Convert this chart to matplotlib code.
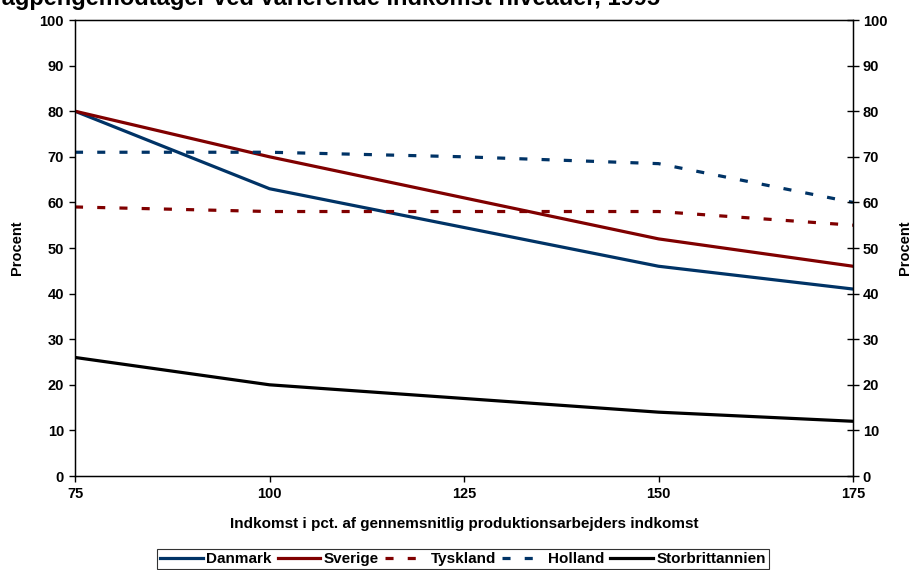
import matplotlib

matplotlib.use("Agg")
import matplotlib.pyplot as plt
from matplotlib.ticker import MultipleLocator

# Kompensationsgrad ved forskellige indkomstniveauer (pct.)
indkomst = [75, 100, 125, 150, 175]
danmark = [80, 63, 54.5, 46, 41]
sverige = [80, 70, 61, 52, 46]
tyskland = [59, 58, 58, 58, 55]
holland = [71, 71, 70, 68.5, 60]
storbritannien = [26, 20, 17, 14, 12]

titel = "Kompensationsgrader for en dagpengemodtager ved varierende indkomst niveauer, 1995"

plt.rcParams.update(
    {
        "font.family": "Liberation Sans",
        "font.weight": "bold",
        "font.size": 10.5,
        "lines.scale_dashes": False,
    }
)

blaa = "#003366"
roed = "#800000"
dash = (5.8, 10.2)

fig = plt.figure(figsize=(9.13, 5.70), dpi=100)
ax = fig.add_axes([75 / 913, 1 - 476 / 570, (853 - 75) / 913, (476 - 20) / 570])

ax.plot(indkomst, danmark, color=blaa, lw=2.3, label="Danmark")
ax.plot(indkomst, sverige, color=roed, lw=2.3, label="Sverige")
ax.plot(indkomst, tyskland, color=roed, lw=2.3, dashes=dash, label="Tyskland")
ax.plot(indkomst, holland, color=blaa, lw=2.3, dashes=dash, label="Holland")
ax.plot(indkomst, storbritannien, color="black", lw=2.3, label="Storbrittannien")

ax.set_xlim(75, 175)
ax.set_ylim(0, 100)
ax.set_xticks(indkomst)
ax.yaxis.set_major_locator(MultipleLocator(10))
ax.tick_params(axis="both", direction="out", length=4, width=1, pad=4, labelsize=10.5)
for s in ax.spines.values():
    s.set_linewidth(1.0)

ax.set_xlabel("Indkomst i pct. af gennemsnitlig produktionsarbejders indkomst",
              fontsize=11, fontweight="bold")
ax.xaxis.set_label_coords(0.5, (476 - 517) / 456)

ax2 = ax.twinx()
ax2.set_ylim(0, 100)
ax2.yaxis.set_major_locator(MultipleLocator(10))
ax2.tick_params(axis="y", direction="inout", length=8, width=1, pad=3, labelsize=10.5)

# "Procent" på begge sider
for xpix in (17, 905):
    fig.text(xpix / 913, 1 - 248 / 570, "Procent", rotation=90, ha="center",
             va="center", fontsize=10.5, fontweight="bold")

fig.text(660 / 913, 1 - 5 / 570, titel, ha="right", va="baseline",
         fontsize=17, fontweight="bold")

leg = fig.legend(loc="upper center", bbox_to_anchor=(463 / 913, 1 - 549 / 570),
                 ncol=5, frameon=True, fancybox=False, edgecolor="black",
                 handlelength=2.8, handletextpad=0.2, columnspacing=0.4,
                 borderpad=0.2, borderaxespad=0, fontsize=11)
leg.get_frame().set_linewidth(0.8)

fig.savefig("out.png", dpi=100)
